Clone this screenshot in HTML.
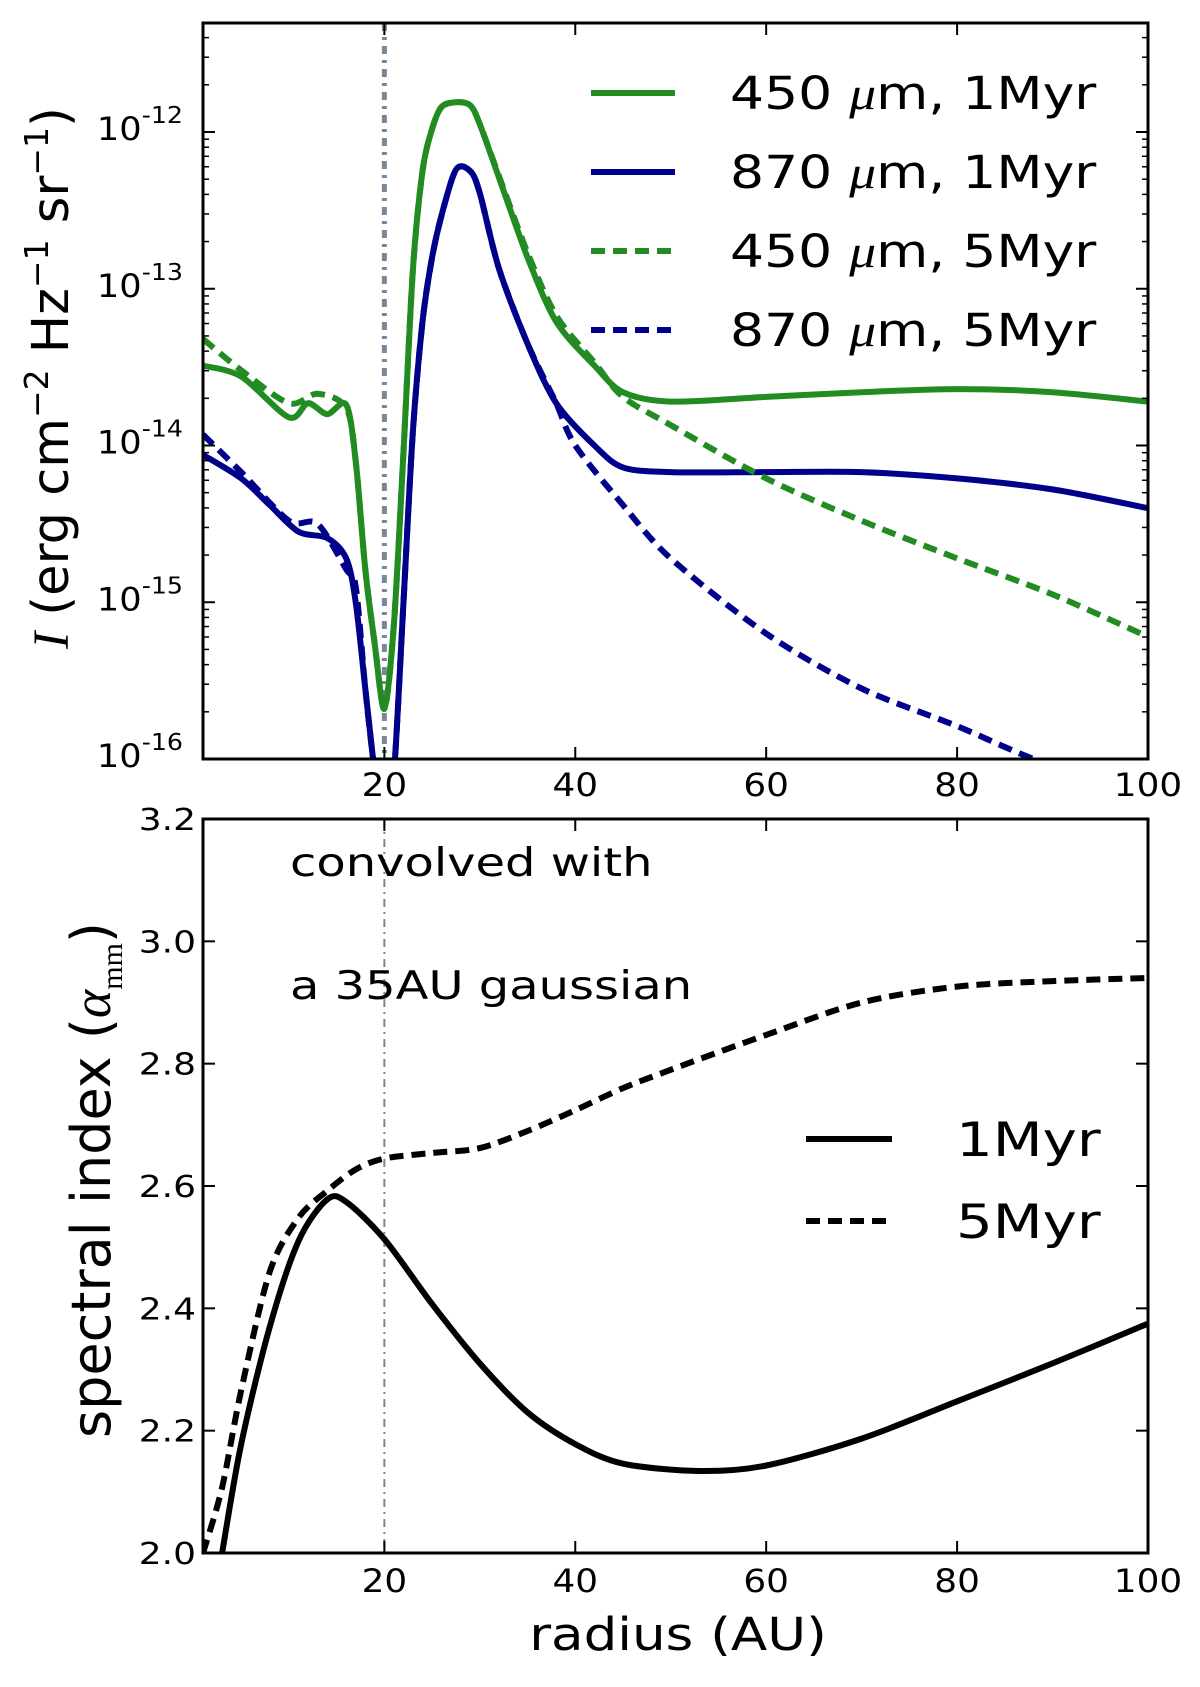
<!DOCTYPE html>
<html><head><meta charset="utf-8"><style>
body{margin:0;background:#fff;}
svg{display:block;font-family:"DejaVu Sans","Liberation Sans",sans-serif;}
</style></head><body>
<svg id="fig" width="1200" height="1687" viewBox="0 0 1200 1687">
<defs>
<clipPath id="clipTop"><rect x="203" y="23" width="945" height="736"/></clipPath>
<clipPath id="clipBot"><rect x="203" y="819" width="945" height="734"/></clipPath>
</defs>
<g id="topPanel"></g>
<g id="botPanel"></g>
</svg>
<script>
// ---- data: top panel (radius in AU, log10 intensity) ----
const g1r = [1,5,10,12,14,16,17,18,19,20,21,22,23,24,25,26,27.5,29,30,32,35,38,42,45,50,60,70,80,90,100];
const g1v = [-13.49,-13.56,-13.82,-13.73,-13.80,-13.74,-14.1,-14.79,-15.27,-15.68,-15.14,-14.04,-12.87,-12.25,-11.98,-11.84,-11.81,-11.83,-11.95,-12.29,-12.80,-13.21,-13.49,-13.66,-13.72,-13.69,-13.66,-13.64,-13.66,-13.72];
const b1r = [1,5,8,11,14,16,17,18,19,20,21,22,23,24,25,26,27.5,29,30,32,35,38,42,45,50,60,70,80,90,100];
const b1v = [-14.06,-14.21,-14.38,-14.55,-14.59,-14.72,-15.0,-15.55,-16.1,-16.6,-16.1,-15.0,-13.9,-13.21,-12.80,-12.53,-12.24,-12.25,-12.39,-12.87,-13.35,-13.73,-14.0,-14.14,-14.17,-14.17,-14.17,-14.21,-14.28,-14.40];
const g5r = [1,5,10,13,16,17,18,19,20,21,22,23,24,25,26,27.5,29,30,32,35,38,42,45,50,60,70,80,90,100];
const g5v = [-13.32,-13.52,-13.73,-13.67,-13.76,-14.1,-14.79,-15.27,-15.68,-15.14,-14.04,-12.87,-12.25,-11.98,-11.84,-11.81,-11.83,-11.95,-12.28,-12.77,-13.17,-13.47,-13.69,-13.87,-14.21,-14.48,-14.72,-14.95,-15.22];
const b5r = [1,5,10,13,16,17,18,19,20,21,22,23,24,25,26,27.5,29,30,32,35,38,40,45,50,60,70,80,88,100];
const b5v = [-13.93,-14.17,-14.48,-14.50,-14.79,-14.9,-15.55,-16.1,-16.6,-16.1,-15.0,-13.9,-13.21,-12.80,-12.53,-12.24,-12.25,-12.39,-12.87,-13.35,-13.73,-14.0,-14.38,-14.72,-15.20,-15.55,-15.79,-16.0,-16.27];
const topTicks = [-16,-15,-14,-13,-12];
// ---- data: bottom panel (spectral index) ----
const s1r = [3,5,8,11,14,16,20,25,30,35,40,45,53,60,70,80,90,100];
const s1v = [2.0,2.178,2.37,2.51,2.578,2.574,2.513,2.407,2.31,2.23,2.178,2.146,2.134,2.143,2.187,2.248,2.31,2.375];
const s5r = [1,3,5,8,11,14,17,20,25,30,35,40,45,50,60,70,80,90,100];
const s5v = [2.0,2.107,2.266,2.46,2.548,2.592,2.627,2.645,2.654,2.662,2.69,2.724,2.76,2.79,2.847,2.90,2.926,2.935,2.94];
const botTicks = [2.0,2.2,2.4,2.6,2.8,3.0,3.2];
const xTicks = [20,40,60,80,100];

const NS='http://www.w3.org/2000/svg';
const L=203,R=1148;
const X=r=>L+(r-1)/99*(R-L);
const YT=v=>759-(v+16)*156.75;
const YB=v=>1553-(v-2.0)/1.2*734;
function el(tag,attrs,parent){const e=document.createElementNS(NS,tag);for(const k in attrs)e.setAttribute(k,attrs[k]);parent.appendChild(e);return e;}
function txt(x,y,sx,size,anchor,parent){return el('text',{x:0,y:0,transform:'translate('+x+','+y+') scale('+sx+',1)','font-size':size,'text-anchor':anchor},parent);}
function pathD(rs,vs,fy){
  const p=rs.map((r,i)=>[X(r),fy(vs[i])]);
  let d='M'+p[0][0].toFixed(1)+','+p[0][1].toFixed(1);
  for(let i=0;i<p.length-1;i++){
    const p0=p[Math.max(0,i-1)],p1=p[i],p2=p[i+1],p3=p[Math.min(p.length-1,i+2)];
    const t=0.15;
    const c1=[p1[0]+(p2[0]-p0[0])*t,p1[1]+(p2[1]-p0[1])*t];
    const c2=[p2[0]-(p3[0]-p1[0])*t,p2[1]-(p3[1]-p1[1])*t];
    d+=' C'+c1.map(v=>v.toFixed(1))+' '+c2.map(v=>v.toFixed(1))+' '+p2.map(v=>v.toFixed(1));
  }
  return d;
}
const topG=document.getElementById('topPanel'),botG=document.getElementById('botPanel');

// top panel
const tc=el('g',{'clip-path':'url(#clipTop)'},topG);
let vl=el('line',{x1:X(20),x2:X(20),y1:23,y2:759,stroke:'#778899','stroke-width':5,'stroke-dasharray':'8,6,3,6'},tc);


const topSeries=[[g1r,g1v,'#228b22','','series-450um-1myr'],[b1r,b1v,'#00008b','','series-870um-1myr'],[g5r,g5v,'#228b22','14,8','series-450um-5myr'],[b5r,b5v,'#00008b','14,8','series-870um-5myr']];
topSeries.forEach(s=>{
  const p=el('path',{d:pathD(s[0],s[1],YT),fill:'none',stroke:s[2],'stroke-width':6,'stroke-dasharray':s[3]||'none','stroke-linejoin':'round'},tc);
  
  
});
topTicks.forEach(t=>{
  const y=YT(t);
  el('line',{x1:L,x2:L+12,y1:y,y2:y,stroke:'#000','stroke-width':2},topG);
  el('line',{x1:R,x2:R-12,y1:y,y2:y,stroke:'#000','stroke-width':2},topG);
  for(let m=2;m<10;m++){const ym=YT(t+Math.log10(m));if(ym<23)break;
    el('line',{x1:L,x2:L+6,y1:ym,y2:ym,stroke:'#000','stroke-width':1.5},topG);
    el('line',{x1:R,x2:R-6,y1:ym,y2:ym,stroke:'#000','stroke-width':1.5},topG);}
  const tx=txt(183,y+8,1.1,32,'end',topG);
  
  
  tx.innerHTML='10<tspan dy="-17" font-size="23">'+t+'</tspan>';
});
xTicks.forEach(t=>{
  const x=X(t);
  el('line',{x1:x,x2:x,y1:759,y2:747,stroke:'#000','stroke-width':2},topG);
  el('line',{x1:x,x2:x,y1:23,y2:35,stroke:'#000','stroke-width':2},topG);
  const tx=txt(x,796,1.12,32,'middle',topG);
  
  
  tx.textContent=t;
});
el('rect',{x:L,y:23,width:R-L,height:736,fill:'none',stroke:'#000','stroke-width':3},topG);
const yl=el('text',{transform:'translate(68,378) rotate(-90)','text-anchor':'middle','font-size':51},topG);


yl.innerHTML='<tspan font-family="Liberation Serif" font-style="italic">I</tspan> (erg cm<tspan dy="-20" font-size="33">−2</tspan><tspan dy="20"> Hz</tspan><tspan dy="-20" font-size="33">−1</tspan><tspan dy="20"> sr</tspan><tspan dy="-20" font-size="33">−1</tspan><tspan dy="20">)</tspan>';
const legTop=[['#228b22','','450 ','m, 1Myr','legend-450um-1myr'],['#00008b','','870 ','m, 1Myr','legend-870um-1myr'],['#228b22','14,8','450 ','m, 5Myr','legend-450um-5myr'],['#00008b','14,8','870 ','m, 5Myr','legend-870um-5myr']];
legTop.forEach((l,i)=>{
  const y=93+i*79;
  const g=el('g',{},topG);
  
  
  el('line',{x1:591,x2:675,y1:y,y2:y,stroke:l[0],'stroke-width':6,'stroke-dasharray':l[1]||'none'},g);
  const t=txt(730,y+16,1.19,45,'start',g);
  t.innerHTML=l[2]+'<tspan font-family="Liberation Serif" font-style="italic">μ</tspan>'+l[3];
});

// bottom panel
const bc=el('g',{'clip-path':'url(#clipBot)'},botG);
vl=el('line',{x1:X(20),x2:X(20),y1:819,y2:1553,stroke:'#778899','stroke-width':2,'stroke-dasharray':'8,5,2,5'},bc);


[[s1r,s1v,'','series-alpha-1myr'],[s5r,s5v,'14,8','series-alpha-5myr']].forEach(s=>{
  const p=el('path',{d:pathD(s[0],s[1],YB),fill:'none',stroke:'#000','stroke-width':6,'stroke-dasharray':s[2]||'none'},bc);
  
  
});
botTicks.forEach(t=>{
  const y=YB(t);
  el('line',{x1:L,x2:L+12,y1:y,y2:y,stroke:'#000','stroke-width':2},botG);
  el('line',{x1:R,x2:R-12,y1:y,y2:y,stroke:'#000','stroke-width':2},botG);
  const tx=txt(196,y+11,1.2,30,'end',botG);
  
  
  tx.textContent=t.toFixed(1);
});
xTicks.forEach(t=>{
  const x=X(t);
  el('line',{x1:x,x2:x,y1:1553,y2:1541,stroke:'#000','stroke-width':2},botG);
  el('line',{x1:x,x2:x,y1:819,y2:831,stroke:'#000','stroke-width':2},botG);
  const tx=txt(x,1592,1.12,32,'middle',botG);
  
  
  tx.textContent=t;
});
el('rect',{x:L,y:819,width:R-L,height:734,fill:'none',stroke:'#000','stroke-width':3},botG);
const yl2=el('text',{transform:'translate(110,1180) rotate(-90)','text-anchor':'middle','font-size':54},botG);


yl2.innerHTML='spectral index (<tspan font-family="Liberation Serif" font-style="italic">α</tspan><tspan dy="12" font-size="30" font-family="Liberation Serif">mm</tspan><tspan dy="-12">)</tspan>';
const xl=txt(678,1650,1.18,45,'middle',botG);


xl.textContent='radius (AU)';
const a1=txt(290,876,1.23,39,'start',botG);


a1.textContent='convolved with';
const a2=txt(290,999,1.23,39,'start',botG);


a2.textContent='a 35AU gaussian';
[['','1Myr','legend-1myr'],['14,8','5Myr','legend-5myr']].forEach((l,i)=>{
  const y=1139+i*82;
  const g=el('g',{},botG);
  
  
  el('line',{x1:806,x2:892,y1:y,y2:y,stroke:'#000','stroke-width':6,'stroke-dasharray':l[0]||'none'},g);
  const t=txt(956,y+17,1.23,47,'start',g);
  t.textContent=l[1];
});
</script>
</body></html>
